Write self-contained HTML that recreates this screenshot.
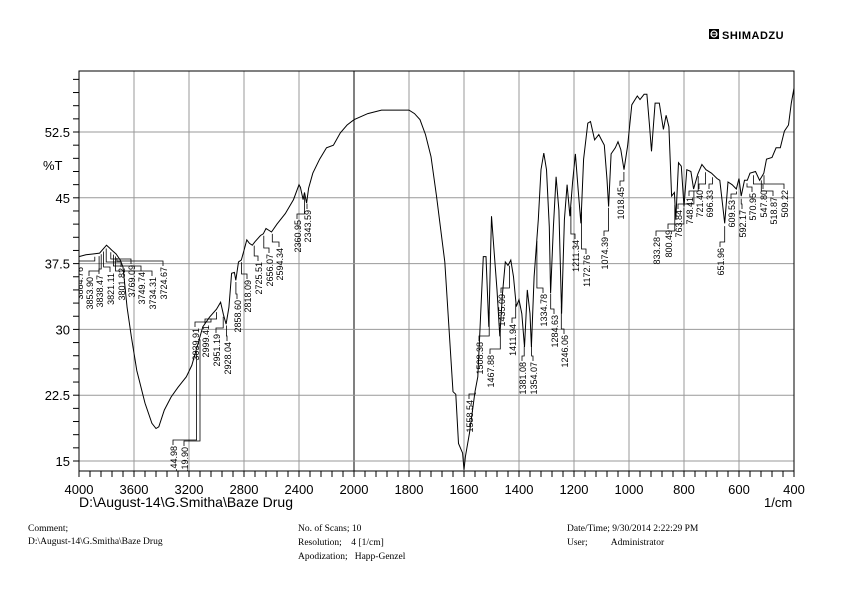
<!DOCTYPE html>
<html><head><meta charset="utf-8"><title>IR Spectrum</title>
<style>
html,body{margin:0;padding:0;background:#fff;}
body{width:842px;height:595px;position:relative;overflow:hidden;font-family:"Liberation Sans",Arial,sans-serif;}
.ft{position:absolute;font-family:"Liberation Serif",serif;font-size:9.5px;color:#000;white-space:pre;}
</style></head>
<body>
<svg id="chart" width="842" height="595" style="position:absolute;left:0;top:0" xmlns="http://www.w3.org/2000/svg">
  <defs><clipPath id="plotclip"><rect x="79" y="71" width="715" height="400"/></clipPath></defs>
  <g id="grid"></g>
  <g id="ticks"></g>
  <g id="labels" font-family="Liberation Sans, Arial, sans-serif" font-size="13"></g>
  <path id="spectrum" fill="none" stroke="#000" stroke-width="1"/>
  <g id="peaks" font-family="Liberation Sans, Arial, sans-serif" font-size="9" clip-path="url(#plotclip)"></g>
  <text x="43" y="170" font-size="13">%T</text>
  <text x="79" y="507" font-size="14">D:\August-14\G.Smitha\Baze Drug</text>
  <text x="764" y="507" font-size="13">1/cm</text>
  <g>
    <rect x="709" y="29" width="10" height="10" fill="#000"/>
    <circle cx="714" cy="34" r="3" fill="none" stroke="#fff" stroke-width="1.2"/>
    <line x1="711" y1="34" x2="717" y2="34" stroke="#fff" stroke-width="1"/>
    <text x="722" y="39" font-size="11" font-weight="bold" letter-spacing="0.5">SHIMADZU</text>
  </g>
</svg>
<div class="ft" style="left:28px;top:524px">Comment;</div>
<div class="ft" style="left:28px;top:537px">D:\August-14\G.Smitha\Baze Drug</div>
<div class="ft" style="left:298px;top:524px">No. of Scans; 10</div>
<div class="ft" style="left:298px;top:538px">Resolution;    4 [1/cm]</div>
<div class="ft" style="left:298px;top:552px">Apodization;   Happ-Genzel</div>
<div class="ft" style="left:567px;top:524px">Date/Time; 9/30/2014 2:22:29 PM</div>
<div class="ft" style="left:567px;top:538px">User;          Administrator</div>
<script>
const wavenumbers=[4000,3950,3900,3850,3800,3780,3760,3730,3700,3680,3650,3620,3580,3520,3470,3440,3420,3380,3330,3280,3220,3180,3100,3050,3000,2970,2950,2930,2910,2890,2870,2860,2840,2820,2800,2780,2760,2740,2720,2680,2660,2640,2600,2560,2500,2440,2400,2390,2370,2360,2345,2330,2300,2250,2200,2150,2100,2050,2000,1950,1900,1850,1800,1780,1760,1740,1720,1700,1670,1640,1630,1620,1605,1600,1595,1580,1560,1550,1530,1520,1510,1500,1490,1480,1470,1460,1450,1440,1430,1420,1410,1400,1390,1380,1370,1360,1355,1345,1330,1320,1310,1300,1290,1285,1275,1265,1255,1245,1235,1225,1215,1205,1195,1185,1175,1165,1150,1140,1125,1110,1100,1090,1080,1074,1065,1050,1040,1030,1018,1005,990,970,960,945,935,925,918,905,890,875,865,855,845,835,830,820,810,800,790,775,765,750,735,720,700,680,670,652,640,625,610,600,592,580,570,560,540,525,510,500,480,465,450,435,420,410,400];
const transmittance=[38.3,38.5,38.6,38.7,39.6,39.3,39.0,38.6,37.9,37.1,32.5,29.2,25.3,21.6,19.3,18.7,18.9,20.8,22.3,23.4,24.6,25.9,30.3,31.4,32.3,33.1,31.7,30.6,32.5,36.4,36.5,35.6,37.7,37.9,39.0,40.2,39.8,39.6,40.0,40.7,40.9,41.5,41.1,42.0,43.2,44.8,46.5,46.2,44.8,45.6,44.4,46.1,47.8,49.4,50.7,51.0,52.4,53.3,53.9,54.6,55.0,55.0,55.0,54.6,53.9,52.2,49.7,45.2,37.7,22.9,22.6,17.0,15.9,14.0,15.5,18.2,22.9,24.6,38.3,38.3,30.3,42.9,38.6,34.5,29.2,34.1,37.7,37.3,37.9,36.0,32.6,33.4,31.8,28.0,34.5,31.8,28.0,36.0,42.5,48.2,50.1,48.2,41.7,34.1,41.7,47.4,43.6,31.8,42.5,46.5,42.9,46.8,50.0,46.0,42.1,49.4,53.5,53.7,51.6,52.2,51.6,51.0,47.1,44.0,50.0,50.7,51.4,50.5,48.2,50.9,55.6,56.6,56.2,56.8,56.8,53.1,50.3,55.8,55.8,52.8,54.4,53.1,45.2,45.6,42.5,49.0,48.6,44.0,48.2,48.0,46.0,47.7,48.8,48.2,47.8,47.2,47.0,42.1,46.8,46.5,46.0,47.2,45.2,47.0,47.0,47.8,48.0,47.0,47.8,49.4,49.6,50.7,50.7,52.6,53.3,55.8,57.5];
const xTicks=[4000,3600,3200,2800,2400,2000,1800,1600,1400,1200,1000,800,600,400];
const yTicks=[52.5,45,37.5,30,22.5,15];
const yTickLabels=["52.5","45","37.5","30","22.5","15"];
const peakLabels=["3884.76","3853.90","3838.47","3821.11","3801.82","3769.09","3749.74","3734.31","3724.67","3144.98","3119.90","3039.91","2999.41","2951.19","2928.04","2858.60","2818.09","2725.51","2656.07","2594.34","2360.95","2343.59","1558.54","1508.38","1467.88","1435.09","1411.94","1381.08","1354.07","1334.78","1284.63","1246.06","1211.34","1172.76","1074.39","1018.45","833.28","800.49","763.84","748.41","721.40","696.33","651.96","609.53","592.17","570.95","547.80","518.87","509.22"];
// annotation layout (label placement, pixels) — not data
const labelLayoutX=[83,93,103,114,125,135,145,156,167,177,188,199,209,220,231,241,251,262,273,283,301,311,473,483,494,505,516,526,537,547,558,568,579,590,608,624,660,672,682,693,703,713,724,735,746,756,767,777,788];
const labelLayoutTop=[267,277,275,273,268,265,272,277,267,446,447,328,325,334,342,300,280,262,254,248,220,210,400,342,355,294,324,362,362,294,315,335,240,255,237,187,237,230,210,197,190,190,248,200,210,193,190,197,190];
const L=79,R=794,T=71,B=471,X2000=354;
function xOf(w){return w>=2000? L+(4000-w)*(X2000-L)/2000 : X2000+(2000-w)*(R-X2000)/1600;}
function yOf(v){return 461-(v-15)*8.773;}
const NS="http://www.w3.org/2000/svg";
function mk(tag,parent,attrs){const e=document.createElementNS(NS,tag);for(const k in attrs)e.setAttribute(k,attrs[k]);parent.appendChild(e);return e;}
const grid=document.getElementById('grid'),ticks=document.getElementById('ticks'),labels=document.getElementById('labels'),peaks=document.getElementById('peaks');
xTicks.forEach(w=>{
  const g=mk('line',grid,{x1:xOf(w),x2:xOf(w),y1:T,y2:B,stroke:w===2000?'#000':'#999','stroke-width':1});
  
  
  const t=mk('text',labels,{x:xOf(w),y:494,'text-anchor':'middle'});
  t.textContent=w;
  
  
});
yTicks.forEach((v,i)=>{
  const g=mk('line',grid,{x1:L,x2:R,y1:yOf(v),y2:yOf(v),stroke:'#999','stroke-width':1});
  
  
  const t=mk('text',labels,{x:70,y:yOf(v)+5,'text-anchor':'end'});
  t.textContent=yTickLabels[i];
  
  
});
for(let w=4000;w>=2000;w-=80){mk('line',ticks,{x1:xOf(w),x2:xOf(w),y1:B,y2:B+6,stroke:'#000'});}
for(let w=2000;w>=400;w-=40){mk('line',ticks,{x1:xOf(w),x2:xOf(w),y1:B,y2:B+6,stroke:'#000'});}
for(let v=13.5;v<=60;v+=1.5){const y=yOf(v);if(y>=T&&y<=B)mk('line',ticks,{x1:L-6,x2:L,y1:y,y2:y,stroke:'#000'});}
mk('rect',ticks,{x:L,y:T,width:R-L,height:B-T,fill:'none',stroke:'#000','stroke-width':1});
let d='';
wavenumbers.forEach((w,i)=>{d+=(i?'L':'M')+xOf(w).toFixed(1)+' '+yOf(transmittance[i]).toFixed(1);});
document.getElementById('spectrum').setAttribute('d',d);
function interpT(w){for(let i=0;i<wavenumbers.length-1;i++){const a=wavenumbers[i],b=wavenumbers[i+1];if(w<=a&&w>=b){const f=(a-w)/(a-b);return transmittance[i]+f*(transmittance[i+1]-transmittance[i]);}}return transmittance[transmittance.length-1];}
peakLabels.forEach((s,i)=>{
  const w=parseFloat(s);
  const px=xOf(w);
  const cy=yOf(interpT(w));
  const lx=labelLayoutX[i];
  const ly=labelLayoutTop[i];
  const elbow=ly-6;
  const pts=[[lx-4,ly-1],[lx-4,elbow],[px,elbow],[px,Math.min(cy+3,elbow)]];
  const ln=mk('polyline',peaks,{points:pts.map(p=>p[0].toFixed(1)+','+p[1].toFixed(1)).join(' '),fill:'none',stroke:'#000','stroke-width':0.8});
  
  
  const t=mk('text',peaks,{x:0,y:0,transform:'translate('+(lx)+','+(ly)+') rotate(-90)','text-anchor':'end'});
  t.textContent=s;
  
  
});
</script>
</body></html>
